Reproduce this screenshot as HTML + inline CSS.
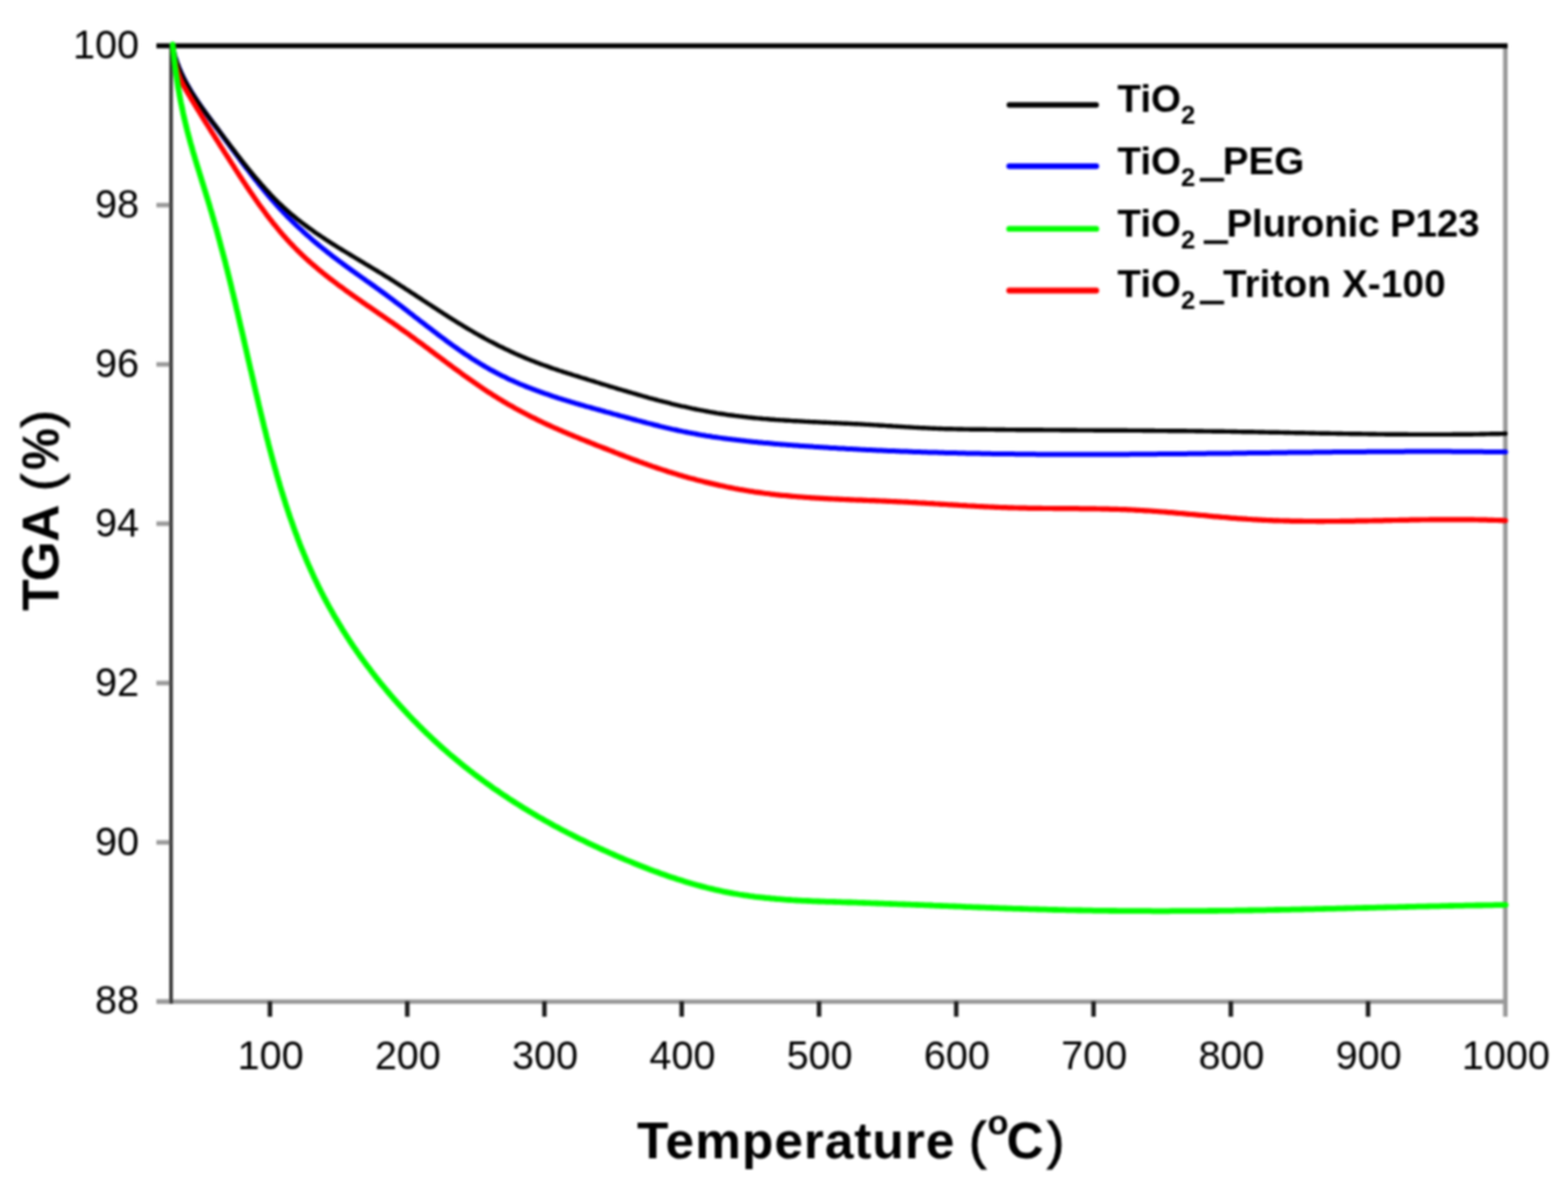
<!DOCTYPE html>
<html><head><meta charset="utf-8"><title>TGA</title>
<style>
html,body{margin:0;padding:0;background:#fff;}
body{width:1584px;height:1198px;overflow:hidden;}
svg{display:block;}
#wrap{filter:blur(0.8px);}
.tl{font-family:"Liberation Sans",Arial,sans-serif;font-size:40px;fill:#000;}
.lg{font-family:"Liberation Sans",Arial,sans-serif;font-size:39px;font-weight:bold;fill:#000;}
.sub{font-size:26px;}
.us{stroke:#000;stroke-width:2.2px;}
.ttl{font-family:"Liberation Sans",Arial,sans-serif;font-size:52px;font-weight:bold;fill:#000;}
.deg{font-size:35px;}
.pn{font-weight:normal;stroke:#000;stroke-width:1.2px;}
</style></head>
<body>
<div id="wrap">
<svg width="1584" height="1198" viewBox="0 0 1584 1198">
<rect width="1584" height="1198" fill="#fff"/>
<line x1="1520.7" y1="46" x2="1520.7" y2="1027" stroke="#999" stroke-width="4.6"/>
<line x1="158" y1="1011.8" x2="1523" y2="1011.8" stroke="#999" stroke-width="4.6"/>
<line x1="158" y1="46.3" x2="1523" y2="46.3" stroke="#000" stroke-width="5"/>
<line x1="172.8" y1="44" x2="172.8" y2="1014" stroke="#333" stroke-width="3.6"/>
<line x1="158" y1="1011.8" x2="171.4" y2="1011.8" stroke="#9a9a9a" stroke-width="4.6"/>
<text x="140.5" y="1024.4" class="tl" text-anchor="end">88</text>
<line x1="158" y1="850.9" x2="171.4" y2="850.9" stroke="#9a9a9a" stroke-width="4.6"/>
<text x="140.5" y="863.5" class="tl" text-anchor="end">90</text>
<line x1="158" y1="690.0" x2="171.4" y2="690.0" stroke="#9a9a9a" stroke-width="4.6"/>
<text x="140.5" y="702.6" class="tl" text-anchor="end">92</text>
<line x1="158" y1="529.0" x2="171.4" y2="529.0" stroke="#9a9a9a" stroke-width="4.6"/>
<text x="140.5" y="541.6" class="tl" text-anchor="end">94</text>
<line x1="158" y1="368.1" x2="171.4" y2="368.1" stroke="#9a9a9a" stroke-width="4.6"/>
<text x="140.5" y="380.7" class="tl" text-anchor="end">96</text>
<line x1="158" y1="207.2" x2="171.4" y2="207.2" stroke="#9a9a9a" stroke-width="4.6"/>
<text x="140.5" y="219.8" class="tl" text-anchor="end">98</text>
<text x="140.5" y="58.9" class="tl" text-anchor="end">100</text>
<line x1="272.7" y1="1011.5" x2="272.7" y2="1027" stroke="#1a1a1a" stroke-width="4.5"/>
<text x="273.3" y="1080.3" class="tl" text-anchor="middle">100</text>
<line x1="411.4" y1="1011.5" x2="411.4" y2="1027" stroke="#1a1a1a" stroke-width="4.5"/>
<text x="412.0" y="1080.3" class="tl" text-anchor="middle">200</text>
<line x1="550.0" y1="1011.5" x2="550.0" y2="1027" stroke="#1a1a1a" stroke-width="4.5"/>
<text x="550.6" y="1080.3" class="tl" text-anchor="middle">300</text>
<line x1="688.7" y1="1011.5" x2="688.7" y2="1027" stroke="#1a1a1a" stroke-width="4.5"/>
<text x="689.3" y="1080.3" class="tl" text-anchor="middle">400</text>
<line x1="827.4" y1="1011.5" x2="827.4" y2="1027" stroke="#1a1a1a" stroke-width="4.5"/>
<text x="828.0" y="1080.3" class="tl" text-anchor="middle">500</text>
<line x1="966.0" y1="1011.5" x2="966.0" y2="1027" stroke="#1a1a1a" stroke-width="4.5"/>
<text x="966.6" y="1080.3" class="tl" text-anchor="middle">600</text>
<line x1="1104.7" y1="1011.5" x2="1104.7" y2="1027" stroke="#1a1a1a" stroke-width="4.5"/>
<text x="1105.3" y="1080.3" class="tl" text-anchor="middle">700</text>
<line x1="1243.4" y1="1011.5" x2="1243.4" y2="1027" stroke="#1a1a1a" stroke-width="4.5"/>
<text x="1244.0" y="1080.3" class="tl" text-anchor="middle">800</text>
<line x1="1382.0" y1="1011.5" x2="1382.0" y2="1027" stroke="#1a1a1a" stroke-width="4.5"/>
<text x="1382.6" y="1080.3" class="tl" text-anchor="middle">900</text>
<text x="1521.3" y="1080.3" class="tl" text-anchor="middle">1000</text>
<path d="M174.4,47.0 L174.9,49.2 L175.4,51.3 L175.9,53.4 L176.4,55.4 L177.0,57.5 L177.7,59.6 L178.3,61.6 L179.0,63.6 L179.8,65.6 L180.5,67.6 L181.3,69.6 L182.2,71.5 L183.0,73.5 L183.9,75.4 L184.8,77.3 L185.8,79.2 L186.7,81.1 L187.7,83.0 L188.7,84.9 L189.8,86.7 L190.8,88.6 L191.9,90.4 L193.0,92.2 L194.1,94.1 L195.3,95.9 L196.4,97.7 L197.6,99.5 L198.8,101.3 L200.0,103.1 L201.2,104.8 L202.4,106.6 L203.7,108.4 L204.9,110.2 L206.2,111.9 L207.4,113.7 L208.7,115.4 L210.0,117.2 L211.3,118.9 L212.6,120.7 L213.8,122.4 L215.1,124.2 L216.4,125.9 L217.7,127.7 L219.0,129.4 L220.3,131.1 L221.6,132.9 L222.9,134.6 L224.2,136.4 L225.4,138.1 L226.7,139.9 L228.0,141.6 L229.3,143.4 L230.6,145.1 L231.9,146.9 L233.1,148.6 L234.4,150.4 L235.7,152.1 L237.0,153.8 L238.3,155.6 L239.6,157.3 L240.9,159.1 L242.2,160.8 L243.4,162.5 L244.7,164.2 L246.0,166.0 L247.3,167.7 L248.6,169.4 L250.0,171.1 L251.3,172.8 L252.6,174.6 L253.9,176.3 L255.2,178.0 L256.6,179.7 L257.9,181.4 L259.2,183.0 L260.6,184.7 L261.9,186.4 L263.3,188.1 L264.6,189.7 L266.0,191.4 L267.4,193.1 L268.7,194.7 L270.1,196.4 L271.5,198.0 L272.9,199.6 L274.3,201.3 L275.7,202.9 L277.2,204.5 L278.6,206.1 L280.0,207.7 L281.5,209.3 L282.9,210.9 L284.4,212.4 L285.9,214.0 L287.3,215.6 L288.8,217.1 L290.3,218.7 L291.8,220.2 L293.4,221.7 L294.9,223.2 L296.4,224.7 L298.0,226.2 L299.5,227.7 L301.1,229.2 L302.7,230.7 L304.3,232.1 L305.8,233.6 L307.4,235.0 L309.0,236.5 L310.6,237.9 L312.3,239.3 L313.9,240.8 L315.5,242.2 L317.2,243.6 L318.8,245.0 L320.4,246.3 L322.1,247.7 L323.8,249.1 L325.4,250.4 L327.1,251.8 L328.8,253.1 L330.5,254.5 L332.1,255.8 L333.8,257.1 L335.5,258.4 L337.2,259.7 L338.9,261.0 L340.6,262.3 L342.3,263.6 L344.0,264.8 L345.8,266.1 L347.5,267.4 L349.2,268.6 L350.9,269.9 L352.7,271.1 L354.4,272.4 L356.1,273.6 L357.8,274.8 L359.6,276.1 L361.3,277.3 L363.0,278.5 L364.8,279.8 L366.5,281.0 L368.3,282.2 L370.0,283.5 L371.7,284.7 L373.5,285.9 L375.2,287.1 L377.0,288.4 L378.7,289.6 L380.4,290.9 L382.2,292.1 L383.9,293.4 L385.6,294.6 L387.4,295.9 L389.1,297.1 L390.8,298.4 L392.6,299.7 L394.3,301.0 L396.0,302.3 L397.7,303.6 L399.4,304.9 L401.2,306.2 L402.9,307.5 L404.6,308.8 L406.3,310.1 L408.0,311.4 L409.8,312.7 L411.5,314.1 L413.2,315.4 L414.9,316.7 L416.6,318.0 L418.3,319.4 L420.0,320.7 L421.8,322.0 L423.5,323.4 L425.2,324.7 L426.9,326.0 L428.6,327.3 L430.4,328.7 L432.1,330.0 L433.8,331.3 L435.5,332.6 L437.3,334.0 L439.0,335.3 L440.7,336.6 L442.4,337.9 L444.2,339.2 L445.9,340.5 L447.7,341.8 L449.4,343.1 L451.1,344.4 L452.9,345.7 L454.6,346.9 L456.4,348.2 L458.2,349.5 L459.9,350.7 L461.7,351.9 L463.5,353.2 L465.2,354.4 L467.0,355.6 L468.8,356.9 L470.6,358.1 L472.4,359.2 L474.2,360.4 L475.9,361.6 L477.8,362.8 L479.6,363.9 L481.4,365.1 L483.2,366.2 L485.0,367.3 L486.8,368.4 L488.7,369.5 L490.5,370.6 L492.4,371.7 L494.2,372.7 L496.1,373.8 L498.0,374.8 L499.8,375.8 L501.7,376.8 L503.6,377.8 L505.5,378.7 L507.4,379.7 L509.3,380.6 L511.2,381.5 L513.1,382.5 L515.0,383.4 L517.0,384.2 L518.9,385.1 L520.8,386.0 L522.8,386.8 L524.7,387.7 L526.7,388.5 L528.7,389.3 L530.6,390.1 L532.6,390.9 L534.6,391.7 L536.6,392.4 L538.5,393.2 L540.5,393.9 L542.5,394.7 L544.5,395.4 L546.5,396.1 L548.6,396.8 L550.6,397.6 L552.6,398.2 L554.6,398.9 L556.6,399.6 L558.7,400.3 L560.7,401.0 L562.7,401.6 L564.8,402.3 L566.8,402.9 L568.8,403.6 L570.9,404.2 L572.9,404.8 L575.0,405.4 L577.1,406.1 L579.1,406.7 L581.2,407.3 L583.2,407.9 L585.3,408.5 L587.4,409.1 L589.4,409.7 L591.5,410.3 L593.6,410.9 L595.7,411.4 L597.7,412.0 L599.8,412.6 L601.9,413.2 L604.0,413.8 L606.1,414.3 L608.1,414.9 L610.2,415.5 L612.3,416.1 L614.4,416.6 L616.5,417.2 L618.6,417.8 L620.6,418.4 L622.7,418.9 L624.8,419.5 L626.9,420.1 L629.0,420.6 L631.1,421.2 L633.2,421.8 L635.3,422.3 L637.4,422.9 L639.5,423.5 L641.6,424.0 L643.7,424.6 L645.8,425.1 L647.9,425.7 L650.0,426.3 L652.1,426.8 L654.2,427.4 L656.3,427.9 L658.4,428.4 L660.5,429.0 L662.6,429.5 L664.7,430.0 L666.8,430.6 L668.9,431.1 L671.0,431.6 L673.1,432.1 L675.3,432.6 L677.4,433.1 L679.5,433.6 L681.6,434.0 L683.7,434.5 L685.8,435.0 L687.9,435.4 L690.1,435.9 L692.2,436.3 L694.3,436.7 L696.4,437.1 L698.5,437.5 L700.6,437.9 L702.8,438.3 L704.9,438.7 L707.0,439.1 L709.1,439.5 L711.2,439.8 L713.4,440.2 L715.5,440.5 L717.6,440.8 L719.7,441.2 L721.8,441.5 L724.0,441.8 L726.1,442.1 L728.2,442.4 L730.4,442.7 L732.5,443.0 L734.6,443.3 L736.7,443.6 L738.9,443.8 L741.0,444.1 L743.1,444.3 L745.2,444.6 L747.4,444.8 L749.5,445.1 L751.6,445.3 L753.8,445.6 L755.9,445.8 L758.0,446.0 L760.2,446.2 L762.3,446.4 L764.4,446.6 L766.6,446.9 L768.7,447.1 L770.8,447.3 L773.0,447.4 L775.1,447.6 L777.2,447.8 L779.4,448.0 L781.5,448.2 L783.6,448.4 L785.8,448.6 L787.9,448.7 L790.0,448.9 L792.2,449.1 L794.3,449.2 L796.4,449.4 L798.6,449.6 L800.7,449.7 L802.9,449.9 L805.0,450.0 L807.1,450.2 L809.3,450.4 L811.4,450.5 L813.5,450.7 L815.7,450.8 L817.8,451.0 L820.0,451.1 L822.1,451.3 L824.2,451.4 L826.4,451.5 L828.5,451.7 L830.7,451.8 L832.8,452.0 L834.9,452.1 L837.1,452.2 L839.2,452.4 L841.4,452.5 L843.5,452.6 L845.6,452.7 L847.8,452.9 L849.9,453.0 L852.1,453.1 L854.2,453.2 L856.3,453.4 L858.5,453.5 L860.6,453.6 L862.8,453.7 L864.9,453.8 L867.1,453.9 L869.2,454.1 L871.3,454.2 L873.5,454.3 L875.6,454.4 L877.8,454.5 L879.9,454.6 L882.1,454.7 L884.2,454.8 L886.3,454.9 L888.5,455.0 L890.6,455.1 L892.8,455.2 L894.9,455.3 L897.1,455.4 L899.2,455.5 L901.3,455.5 L903.5,455.6 L905.6,455.7 L907.8,455.8 L909.9,455.9 L912.1,456.0 L914.2,456.1 L916.4,456.1 L918.5,456.2 L920.7,456.3 L922.8,456.4 L925.0,456.4 L927.1,456.5 L929.2,456.6 L931.4,456.7 L933.5,456.7 L935.7,456.8 L937.8,456.9 L940.0,456.9 L942.1,457.0 L944.3,457.1 L946.4,457.1 L948.6,457.2 L950.7,457.2 L952.9,457.3 L955.0,457.4 L957.2,457.4 L959.3,457.5 L961.5,457.5 L963.6,457.6 L965.8,457.6 L967.9,457.7 L970.1,457.7 L972.2,457.8 L974.4,457.8 L976.5,457.9 L978.7,457.9 L980.8,458.0 L982.9,458.0 L985.1,458.1 L987.2,458.1 L989.4,458.1 L991.5,458.2 L993.7,458.2 L995.8,458.2 L998.0,458.3 L1000.1,458.3 L1002.3,458.4 L1004.5,458.4 L1006.6,458.4 L1008.8,458.5 L1010.9,458.5 L1013.1,458.5 L1015.2,458.5 L1017.4,458.6 L1019.5,458.6 L1021.7,458.6 L1023.8,458.6 L1026.0,458.7 L1028.1,458.7 L1030.3,458.7 L1032.4,458.7 L1034.6,458.8 L1036.7,458.8 L1038.9,458.8 L1041.0,458.8 L1043.2,458.8 L1045.3,458.8 L1047.5,458.9 L1049.6,458.9 L1051.8,458.9 L1053.9,458.9 L1056.1,458.9 L1058.2,458.9 L1060.4,458.9 L1062.5,458.9 L1064.7,459.0 L1066.9,459.0 L1069.0,459.0 L1071.2,459.0 L1073.3,459.0 L1075.5,459.0 L1077.6,459.0 L1079.8,459.0 L1081.9,459.0 L1084.1,459.0 L1086.2,459.0 L1088.4,459.0 L1090.5,459.0 L1092.7,459.0 L1094.8,459.0 L1097.0,459.0 L1099.2,459.0 L1101.3,459.0 L1103.5,459.0 L1105.6,459.0 L1107.8,459.0 L1109.9,459.0 L1112.1,459.0 L1114.2,459.0 L1116.4,459.0 L1118.5,459.0 L1120.7,459.0 L1122.9,458.9 L1125.0,458.9 L1127.2,458.9 L1129.3,458.9 L1131.5,458.9 L1133.6,458.9 L1135.8,458.9 L1137.9,458.9 L1140.1,458.9 L1142.2,458.8 L1144.4,458.8 L1146.6,458.8 L1148.7,458.8 L1150.9,458.8 L1153.0,458.8 L1155.2,458.8 L1157.3,458.7 L1159.5,458.7 L1161.6,458.7 L1163.8,458.7 L1165.9,458.7 L1168.1,458.7 L1170.3,458.6 L1172.4,458.6 L1174.6,458.6 L1176.7,458.6 L1178.9,458.6 L1181.0,458.5 L1183.2,458.5 L1185.3,458.5 L1187.5,458.5 L1189.7,458.5 L1191.8,458.4 L1194.0,458.4 L1196.1,458.4 L1198.3,458.4 L1200.4,458.3 L1202.6,458.3 L1204.7,458.3 L1206.9,458.3 L1209.0,458.3 L1211.2,458.2 L1213.4,458.2 L1215.5,458.2 L1217.7,458.2 L1219.8,458.1 L1222.0,458.1 L1224.1,458.1 L1226.3,458.1 L1228.4,458.0 L1230.6,458.0 L1232.8,458.0 L1234.9,458.0 L1237.1,457.9 L1239.2,457.9 L1241.4,457.9 L1243.5,457.9 L1245.7,457.8 L1247.8,457.8 L1250.0,457.8 L1252.1,457.7 L1254.3,457.7 L1256.5,457.7 L1258.6,457.7 L1260.8,457.6 L1262.9,457.6 L1265.1,457.6 L1267.2,457.6 L1269.4,457.5 L1271.5,457.5 L1273.7,457.5 L1275.8,457.5 L1278.0,457.4 L1280.2,457.4 L1282.3,457.4 L1284.5,457.3 L1286.6,457.3 L1288.8,457.3 L1290.9,457.3 L1293.1,457.2 L1295.2,457.2 L1297.4,457.2 L1299.5,457.2 L1301.7,457.1 L1303.9,457.1 L1306.0,457.1 L1308.2,457.1 L1310.3,457.0 L1312.5,457.0 L1314.6,457.0 L1316.8,457.0 L1318.9,456.9 L1321.1,456.9 L1323.2,456.9 L1325.4,456.9 L1327.5,456.8 L1329.7,456.8 L1331.9,456.8 L1334.0,456.8 L1336.2,456.8 L1338.3,456.7 L1340.5,456.7 L1342.6,456.7 L1344.8,456.7 L1346.9,456.6 L1349.1,456.6 L1351.2,456.6 L1353.4,456.6 L1355.5,456.6 L1357.7,456.5 L1359.8,456.5 L1362.0,456.5 L1364.1,456.5 L1366.3,456.5 L1368.5,456.4 L1370.6,456.4 L1372.8,456.4 L1374.9,456.4 L1377.1,456.4 L1379.2,456.4 L1381.4,456.3 L1383.5,456.3 L1385.7,456.3 L1387.8,456.3 L1390.0,456.3 L1392.1,456.3 L1394.3,456.3 L1396.4,456.2 L1398.6,456.2 L1400.7,456.2 L1402.9,456.2 L1405.0,456.2 L1407.2,456.2 L1409.3,456.2 L1411.5,456.2 L1413.6,456.2 L1415.8,456.2 L1417.9,456.2 L1420.1,456.1 L1422.2,456.1 L1424.4,456.1 L1426.5,456.1 L1428.7,456.1 L1430.8,456.1 L1433.0,456.1 L1435.1,456.1 L1437.3,456.1 L1439.4,456.1 L1441.6,456.1 L1443.7,456.1 L1445.9,456.1 L1448.0,456.1 L1450.2,456.1 L1452.3,456.1 L1454.5,456.1 L1456.6,456.1 L1458.8,456.1 L1460.9,456.1 L1463.1,456.1 L1465.2,456.1 L1467.4,456.2 L1469.5,456.2 L1471.6,456.2 L1473.8,456.2 L1475.9,456.2 L1478.1,456.2 L1480.2,456.2 L1482.4,456.2 L1484.5,456.2 L1486.7,456.3 L1488.8,456.3 L1491.0,456.3 L1493.1,456.3 L1495.3,456.3 L1497.4,456.3 L1499.5,456.4 L1501.7,456.4 L1503.8,456.4 L1506.0,456.4 L1508.1,456.4 L1510.3,456.5 L1512.4,456.5 L1514.6,456.5 L1516.7,456.5 L1518.9,456.6 L1521.0,456.6" fill="none" stroke="#0000ff" stroke-width="5.0" stroke-linejoin="round" stroke-linecap="round"/>
<path d="M174.5,47.0 L174.9,49.1 L175.3,51.2 L175.8,53.3 L176.3,55.4 L176.9,57.4 L177.5,59.5 L178.2,61.5 L178.9,63.5 L179.6,65.4 L180.4,67.4 L181.1,69.4 L182.0,71.3 L182.8,73.2 L183.7,75.1 L184.6,77.0 L185.5,78.9 L186.5,80.8 L187.5,82.7 L188.5,84.5 L189.5,86.3 L190.6,88.2 L191.6,90.0 L192.7,91.8 L193.8,93.6 L195.0,95.4 L196.1,97.2 L197.3,99.0 L198.5,100.7 L199.6,102.5 L200.8,104.3 L202.1,106.0 L203.3,107.7 L204.5,109.5 L205.8,111.2 L207.0,113.0 L208.3,114.7 L209.6,116.4 L210.8,118.1 L212.1,119.9 L213.4,121.6 L214.7,123.3 L216.0,125.0 L217.3,126.7 L218.6,128.4 L219.9,130.2 L221.2,131.9 L222.4,133.6 L223.7,135.3 L225.0,137.0 L226.3,138.7 L227.6,140.5 L228.9,142.2 L230.2,143.9 L231.5,145.6 L232.8,147.3 L234.1,149.0 L235.4,150.7 L236.7,152.4 L238.0,154.1 L239.3,155.8 L240.6,157.5 L241.9,159.2 L243.2,160.9 L244.6,162.6 L245.9,164.3 L247.2,166.0 L248.6,167.6 L249.9,169.3 L251.2,171.0 L252.6,172.6 L253.9,174.3 L255.3,175.9 L256.7,177.6 L258.0,179.2 L259.4,180.8 L260.8,182.4 L262.2,184.0 L263.6,185.7 L265.0,187.3 L266.4,188.8 L267.8,190.4 L269.3,192.0 L270.7,193.6 L272.1,195.1 L273.6,196.7 L275.1,198.2 L276.5,199.7 L278.0,201.2 L279.5,202.7 L281.0,204.2 L282.5,205.7 L284.1,207.1 L285.6,208.6 L287.1,210.0 L288.7,211.4 L290.3,212.8 L291.8,214.2 L293.4,215.6 L295.0,217.0 L296.7,218.3 L298.3,219.6 L299.9,221.0 L301.5,222.3 L303.2,223.6 L304.9,224.9 L306.5,226.1 L308.2,227.4 L309.9,228.6 L311.6,229.9 L313.3,231.1 L315.0,232.3 L316.7,233.6 L318.4,234.8 L320.2,236.0 L321.9,237.1 L323.7,238.3 L325.4,239.5 L327.2,240.7 L328.9,241.8 L330.7,243.0 L332.5,244.1 L334.3,245.3 L336.0,246.4 L337.8,247.5 L339.6,248.7 L341.4,249.8 L343.2,250.9 L345.0,252.0 L346.8,253.1 L348.6,254.2 L350.5,255.3 L352.3,256.4 L354.1,257.5 L355.9,258.6 L357.7,259.7 L359.6,260.8 L361.4,261.9 L363.2,263.0 L365.1,264.1 L366.9,265.2 L368.7,266.3 L370.5,267.4 L372.4,268.5 L374.2,269.6 L376.0,270.7 L377.9,271.8 L379.7,272.9 L381.5,274.0 L383.3,275.1 L385.2,276.2 L387.0,277.3 L388.8,278.5 L390.6,279.6 L392.5,280.7 L394.3,281.9 L396.1,283.0 L397.9,284.2 L399.7,285.3 L401.5,286.5 L403.3,287.6 L405.1,288.8 L406.9,289.9 L408.7,291.1 L410.5,292.3 L412.3,293.4 L414.1,294.6 L415.9,295.8 L417.7,296.9 L419.5,298.1 L421.3,299.3 L423.1,300.5 L424.9,301.6 L426.6,302.8 L428.4,304.0 L430.2,305.2 L432.0,306.3 L433.8,307.5 L435.6,308.7 L437.4,309.9 L439.2,311.0 L441.0,312.2 L442.8,313.4 L444.6,314.5 L446.4,315.7 L448.2,316.8 L450.0,318.0 L451.8,319.1 L453.6,320.3 L455.4,321.4 L457.2,322.6 L459.0,323.7 L460.8,324.8 L462.6,326.0 L464.5,327.1 L466.3,328.2 L468.1,329.3 L469.9,330.4 L471.7,331.5 L473.6,332.6 L475.4,333.7 L477.2,334.7 L479.1,335.8 L480.9,336.9 L482.8,337.9 L484.6,339.0 L486.5,340.0 L488.3,341.0 L490.2,342.1 L492.1,343.1 L493.9,344.1 L495.8,345.1 L497.7,346.0 L499.6,347.0 L501.5,348.0 L503.3,349.0 L505.2,349.9 L507.1,350.8 L509.0,351.8 L510.9,352.7 L512.8,353.6 L514.8,354.5 L516.7,355.4 L518.6,356.3 L520.5,357.2 L522.4,358.0 L524.4,358.9 L526.3,359.7 L528.2,360.5 L530.2,361.4 L532.1,362.2 L534.1,363.0 L536.0,363.8 L538.0,364.5 L539.9,365.3 L541.9,366.1 L543.8,366.8 L545.8,367.6 L547.7,368.3 L549.7,369.0 L551.7,369.7 L553.7,370.4 L555.6,371.1 L557.6,371.8 L559.6,372.5 L561.6,373.1 L563.6,373.8 L565.6,374.5 L567.6,375.1 L569.6,375.8 L571.6,376.4 L573.6,377.1 L575.6,377.7 L577.6,378.3 L579.6,379.0 L581.6,379.6 L583.6,380.2 L585.6,380.9 L587.6,381.5 L589.7,382.1 L591.7,382.7 L593.7,383.4 L595.7,384.0 L597.8,384.6 L599.8,385.2 L601.8,385.9 L603.9,386.5 L605.9,387.1 L608.0,387.8 L610.0,388.4 L612.0,389.0 L614.1,389.6 L616.1,390.3 L618.2,390.9 L620.2,391.5 L622.3,392.1 L624.4,392.8 L626.4,393.4 L628.5,394.0 L630.5,394.6 L632.6,395.2 L634.7,395.8 L636.7,396.4 L638.8,397.0 L640.9,397.6 L642.9,398.2 L645.0,398.8 L647.1,399.4 L649.1,400.0 L651.2,400.6 L653.3,401.2 L655.4,401.8 L657.5,402.3 L659.5,402.9 L661.6,403.5 L663.7,404.0 L665.8,404.6 L667.9,405.1 L670.0,405.7 L672.0,406.2 L674.1,406.7 L676.2,407.2 L678.3,407.8 L680.4,408.3 L682.5,408.8 L684.6,409.3 L686.7,409.8 L688.8,410.3 L690.9,410.7 L693.0,411.2 L695.1,411.7 L697.2,412.1 L699.3,412.6 L701.4,413.0 L703.5,413.5 L705.6,413.9 L707.7,414.3 L709.8,414.7 L711.9,415.1 L714.0,415.5 L716.1,415.9 L718.2,416.3 L720.3,416.6 L722.4,417.0 L724.5,417.4 L726.6,417.7 L728.7,418.0 L730.8,418.3 L732.9,418.6 L735.0,419.0 L737.1,419.2 L739.2,419.5 L741.3,419.8 L743.4,420.1 L745.5,420.3 L747.6,420.6 L749.7,420.8 L751.8,421.1 L753.9,421.3 L756.0,421.6 L758.1,421.8 L760.2,422.0 L762.4,422.2 L764.5,422.4 L766.6,422.6 L768.7,422.8 L770.8,423.0 L772.9,423.1 L775.0,423.3 L777.1,423.5 L779.2,423.7 L781.3,423.8 L783.4,424.0 L785.5,424.1 L787.7,424.3 L789.8,424.4 L791.9,424.5 L794.0,424.7 L796.1,424.8 L798.2,424.9 L800.3,425.1 L802.4,425.2 L804.5,425.3 L806.7,425.4 L808.8,425.5 L810.9,425.6 L813.0,425.8 L815.1,425.9 L817.2,426.0 L819.3,426.1 L821.4,426.2 L823.6,426.3 L825.7,426.4 L827.8,426.5 L829.9,426.6 L832.0,426.7 L834.1,426.8 L836.2,426.9 L838.4,427.0 L840.5,427.1 L842.6,427.2 L844.7,427.3 L846.8,427.4 L848.9,427.5 L851.0,427.6 L853.2,427.7 L855.3,427.8 L857.4,427.9 L859.5,428.0 L861.6,428.1 L863.7,428.2 L865.9,428.3 L868.0,428.4 L870.1,428.5 L872.2,428.6 L874.3,428.8 L876.4,428.9 L878.6,429.0 L880.7,429.1 L882.8,429.3 L884.9,429.4 L887.0,429.5 L889.2,429.7 L891.3,429.8 L893.4,429.9 L895.5,430.1 L897.6,430.2 L899.7,430.3 L901.9,430.5 L904.0,430.6 L906.1,430.7 L908.2,430.9 L910.4,431.0 L912.5,431.1 L914.6,431.3 L916.7,431.4 L918.8,431.5 L921.0,431.6 L923.1,431.8 L925.2,431.9 L927.3,432.0 L929.4,432.1 L931.6,432.2 L933.7,432.3 L935.8,432.4 L937.9,432.5 L940.1,432.6 L942.2,432.7 L944.3,432.8 L946.4,432.9 L948.5,433.0 L950.7,433.0 L952.8,433.1 L954.9,433.2 L957.0,433.2 L959.2,433.3 L961.3,433.3 L963.4,433.4 L965.5,433.4 L967.7,433.5 L969.8,433.5 L971.9,433.5 L974.0,433.6 L976.2,433.6 L978.3,433.6 L980.4,433.7 L982.5,433.7 L984.7,433.7 L986.8,433.7 L988.9,433.8 L991.0,433.8 L993.2,433.8 L995.3,433.8 L997.4,433.9 L999.5,433.9 L1001.7,433.9 L1003.8,433.9 L1005.9,434.0 L1008.0,434.0 L1010.2,434.0 L1012.3,434.0 L1014.4,434.0 L1016.5,434.1 L1018.7,434.1 L1020.8,434.1 L1022.9,434.1 L1025.1,434.1 L1027.2,434.2 L1029.3,434.2 L1031.4,434.2 L1033.6,434.2 L1035.7,434.2 L1037.8,434.2 L1039.9,434.3 L1042.1,434.3 L1044.2,434.3 L1046.3,434.3 L1048.5,434.3 L1050.6,434.3 L1052.7,434.3 L1054.8,434.4 L1057.0,434.4 L1059.1,434.4 L1061.2,434.4 L1063.4,434.4 L1065.5,434.4 L1067.6,434.4 L1069.7,434.4 L1071.9,434.5 L1074.0,434.5 L1076.1,434.5 L1078.3,434.5 L1080.4,434.5 L1082.5,434.5 L1084.6,434.5 L1086.8,434.5 L1088.9,434.6 L1091.0,434.6 L1093.2,434.6 L1095.3,434.6 L1097.4,434.6 L1099.6,434.6 L1101.7,434.6 L1103.8,434.6 L1105.9,434.7 L1108.1,434.7 L1110.2,434.7 L1112.3,434.7 L1114.5,434.7 L1116.6,434.7 L1118.7,434.7 L1120.9,434.7 L1123.0,434.7 L1125.1,434.8 L1127.2,434.8 L1129.4,434.8 L1131.5,434.8 L1133.6,434.8 L1135.8,434.8 L1137.9,434.8 L1140.0,434.9 L1142.2,434.9 L1144.3,434.9 L1146.4,434.9 L1148.6,434.9 L1150.7,434.9 L1152.8,434.9 L1154.9,435.0 L1157.1,435.0 L1159.2,435.0 L1161.3,435.0 L1163.5,435.0 L1165.6,435.0 L1167.7,435.1 L1169.9,435.1 L1172.0,435.1 L1174.1,435.1 L1176.3,435.1 L1178.4,435.1 L1180.5,435.2 L1182.7,435.2 L1184.8,435.2 L1186.9,435.2 L1189.0,435.2 L1191.2,435.3 L1193.3,435.3 L1195.4,435.3 L1197.6,435.3 L1199.7,435.4 L1201.8,435.4 L1204.0,435.4 L1206.1,435.4 L1208.2,435.5 L1210.4,435.5 L1212.5,435.5 L1214.6,435.5 L1216.8,435.6 L1218.9,435.6 L1221.0,435.6 L1223.1,435.6 L1225.3,435.7 L1227.4,435.7 L1229.5,435.7 L1231.7,435.8 L1233.8,435.8 L1235.9,435.8 L1238.1,435.9 L1240.2,435.9 L1242.3,435.9 L1244.5,436.0 L1246.6,436.0 L1248.7,436.0 L1250.9,436.1 L1253.0,436.1 L1255.1,436.2 L1257.2,436.2 L1259.4,436.2 L1261.5,436.3 L1263.6,436.3 L1265.8,436.3 L1267.9,436.4 L1270.0,436.4 L1272.2,436.5 L1274.3,436.5 L1276.4,436.5 L1278.6,436.6 L1280.7,436.6 L1282.8,436.7 L1285.0,436.7 L1287.1,436.8 L1289.2,436.8 L1291.3,436.8 L1293.5,436.9 L1295.6,436.9 L1297.7,437.0 L1299.9,437.0 L1302.0,437.0 L1304.1,437.1 L1306.3,437.1 L1308.4,437.2 L1310.5,437.2 L1312.6,437.3 L1314.8,437.3 L1316.9,437.3 L1319.0,437.4 L1321.2,437.4 L1323.3,437.5 L1325.4,437.5 L1327.6,437.5 L1329.7,437.6 L1331.8,437.6 L1333.9,437.7 L1336.1,437.7 L1338.2,437.7 L1340.3,437.8 L1342.5,437.8 L1344.6,437.9 L1346.7,437.9 L1348.9,437.9 L1351.0,438.0 L1353.1,438.0 L1355.2,438.0 L1357.4,438.1 L1359.5,438.1 L1361.6,438.1 L1363.8,438.2 L1365.9,438.2 L1368.0,438.2 L1370.1,438.3 L1372.3,438.3 L1374.4,438.3 L1376.5,438.4 L1378.7,438.4 L1380.8,438.4 L1382.9,438.5 L1385.0,438.5 L1387.2,438.5 L1389.3,438.5 L1391.4,438.6 L1393.6,438.6 L1395.7,438.6 L1397.8,438.6 L1399.9,438.7 L1402.1,438.7 L1404.2,438.7 L1406.3,438.7 L1408.4,438.7 L1410.6,438.8 L1412.7,438.8 L1414.8,438.8 L1416.9,438.8 L1419.1,438.8 L1421.2,438.8 L1423.3,438.9 L1425.5,438.9 L1427.6,438.9 L1429.7,438.9 L1431.8,438.9 L1434.0,438.9 L1436.1,438.9 L1438.2,438.9 L1440.3,438.9 L1442.5,438.9 L1444.6,438.9 L1446.7,438.9 L1448.8,438.9 L1451.0,438.9 L1453.1,438.9 L1455.2,438.9 L1457.3,438.9 L1459.5,438.9 L1461.6,438.9 L1463.7,438.9 L1465.8,438.9 L1468.0,438.8 L1470.1,438.8 L1472.2,438.8 L1474.3,438.8 L1476.4,438.8 L1478.6,438.8 L1480.7,438.7 L1482.8,438.7 L1484.9,438.7 L1487.1,438.7 L1489.2,438.6 L1491.3,438.6 L1493.4,438.6 L1495.5,438.5 L1497.7,438.5 L1499.8,438.5 L1501.9,438.4 L1504.0,438.4 L1506.2,438.3 L1508.3,438.3 L1510.4,438.3 L1512.5,438.2 L1514.6,438.2 L1516.8,438.1 L1518.9,438.1 L1521.0,438.0" fill="none" stroke="#000" stroke-width="4.4" stroke-linejoin="round" stroke-linecap="round"/>
<path d="M174.5,47.0 L174.8,49.2 L175.1,51.4 L175.4,53.6 L175.7,55.8 L176.1,58.0 L176.4,60.1 L176.9,62.3 L177.3,64.4 L177.8,66.5 L178.3,68.6 L178.9,70.7 L179.5,72.7 L180.2,74.8 L180.9,76.8 L181.7,78.9 L182.6,80.9 L183.6,82.9 L184.6,84.9 L185.6,86.9 L186.7,88.8 L187.9,90.8 L189.0,92.8 L190.1,94.7 L191.3,96.6 L192.4,98.6 L193.6,100.5 L194.7,102.4 L195.9,104.3 L197.0,106.2 L198.2,108.1 L199.3,110.0 L200.5,111.8 L201.6,113.7 L202.8,115.6 L203.9,117.4 L205.1,119.3 L206.2,121.1 L207.4,123.0 L208.5,124.8 L209.7,126.7 L210.8,128.5 L212.0,130.3 L213.1,132.2 L214.3,134.0 L215.4,135.8 L216.6,137.6 L217.7,139.5 L218.9,141.3 L220.1,143.1 L221.2,144.9 L222.4,146.8 L223.5,148.6 L224.7,150.4 L225.9,152.2 L227.0,154.1 L228.2,155.9 L229.4,157.7 L230.6,159.5 L231.7,161.4 L232.9,163.2 L234.1,165.1 L235.3,166.9 L236.5,168.7 L237.6,170.6 L238.8,172.4 L240.0,174.3 L241.2,176.1 L242.4,178.0 L243.6,179.8 L244.8,181.6 L246.0,183.5 L247.3,185.3 L248.5,187.2 L249.7,189.0 L250.9,190.8 L252.2,192.7 L253.4,194.5 L254.7,196.3 L255.9,198.1 L257.2,199.9 L258.4,201.8 L259.7,203.6 L261.0,205.4 L262.3,207.2 L263.6,209.0 L264.9,210.7 L266.2,212.5 L267.5,214.3 L268.8,216.1 L270.1,217.8 L271.5,219.6 L272.8,221.3 L274.2,223.0 L275.5,224.8 L276.9,226.5 L278.3,228.2 L279.7,229.9 L281.1,231.6 L282.5,233.3 L283.9,235.0 L285.3,236.6 L286.7,238.3 L288.2,239.9 L289.6,241.5 L291.1,243.1 L292.6,244.8 L294.1,246.3 L295.6,247.9 L297.1,249.5 L298.6,251.0 L300.2,252.6 L301.7,254.1 L303.3,255.6 L304.8,257.1 L306.4,258.6 L308.0,260.1 L309.6,261.6 L311.2,263.0 L312.8,264.5 L314.4,265.9 L316.1,267.3 L317.7,268.7 L319.4,270.1 L321.0,271.5 L322.7,272.9 L324.4,274.3 L326.1,275.7 L327.8,277.0 L329.5,278.4 L331.2,279.7 L332.9,281.1 L334.6,282.4 L336.4,283.7 L338.1,285.0 L339.8,286.3 L341.6,287.7 L343.3,289.0 L345.1,290.2 L346.9,291.5 L348.6,292.8 L350.4,294.1 L352.2,295.4 L354.0,296.6 L355.7,297.9 L357.5,299.2 L359.3,300.4 L361.1,301.7 L362.9,302.9 L364.7,304.2 L366.5,305.5 L368.3,306.7 L370.1,308.0 L372.0,309.2 L373.8,310.4 L375.6,311.7 L377.4,312.9 L379.2,314.2 L381.0,315.4 L382.8,316.7 L384.7,317.9 L386.5,319.2 L388.3,320.4 L390.1,321.7 L391.9,322.9 L393.7,324.2 L395.6,325.4 L397.4,326.7 L399.2,328.0 L401.0,329.2 L402.8,330.5 L404.6,331.8 L406.4,333.1 L408.2,334.4 L410.0,335.7 L411.8,336.9 L413.6,338.2 L415.4,339.6 L417.2,340.9 L419.0,342.2 L420.7,343.5 L422.5,344.8 L424.3,346.1 L426.1,347.4 L427.9,348.8 L429.6,350.1 L431.4,351.4 L433.2,352.7 L435.0,354.1 L436.7,355.4 L438.5,356.7 L440.3,358.1 L442.1,359.4 L443.8,360.7 L445.6,362.0 L447.4,363.4 L449.2,364.7 L450.9,366.0 L452.7,367.3 L454.5,368.6 L456.3,370.0 L458.0,371.3 L459.8,372.6 L461.6,373.9 L463.4,375.2 L465.2,376.5 L466.9,377.8 L468.7,379.1 L470.5,380.3 L472.3,381.6 L474.1,382.9 L475.9,384.2 L477.7,385.4 L479.5,386.7 L481.3,387.9 L483.1,389.2 L484.9,390.4 L486.7,391.6 L488.5,392.8 L490.4,394.1 L492.2,395.3 L494.0,396.5 L495.9,397.6 L497.7,398.8 L499.5,400.0 L501.4,401.1 L503.2,402.3 L505.1,403.4 L506.9,404.5 L508.8,405.7 L510.7,406.8 L512.6,407.9 L514.4,408.9 L516.3,410.0 L518.2,411.1 L520.1,412.2 L522.0,413.2 L523.9,414.2 L525.8,415.3 L527.7,416.3 L529.6,417.3 L531.5,418.3 L533.4,419.3 L535.4,420.3 L537.3,421.3 L539.2,422.2 L541.2,423.2 L543.1,424.2 L545.0,425.1 L547.0,426.0 L548.9,427.0 L550.9,427.9 L552.9,428.8 L554.8,429.7 L556.8,430.6 L558.8,431.5 L560.7,432.4 L562.7,433.2 L564.7,434.1 L566.7,434.9 L568.7,435.8 L570.6,436.6 L572.6,437.5 L574.6,438.3 L576.6,439.2 L578.6,440.0 L580.6,440.8 L582.7,441.6 L584.7,442.5 L586.7,443.3 L588.7,444.1 L590.7,444.9 L592.8,445.7 L594.8,446.5 L596.8,447.3 L598.8,448.1 L600.9,449.0 L602.9,449.8 L605.0,450.6 L607.0,451.4 L609.1,452.2 L611.1,453.0 L613.2,453.8 L615.2,454.6 L617.3,455.4 L619.4,456.2 L621.4,457.1 L623.5,457.9 L625.6,458.7 L627.6,459.5 L629.7,460.3 L631.8,461.1 L633.9,461.9 L635.9,462.7 L638.0,463.5 L640.1,464.2 L642.2,465.0 L644.3,465.8 L646.4,466.6 L648.5,467.3 L650.6,468.1 L652.7,468.8 L654.8,469.6 L656.9,470.3 L659.0,471.1 L661.1,471.8 L663.2,472.5 L665.3,473.2 L667.4,473.9 L669.5,474.6 L671.7,475.3 L673.8,476.0 L675.9,476.7 L678.0,477.3 L680.1,478.0 L682.3,478.6 L684.4,479.3 L686.5,479.9 L688.7,480.5 L690.8,481.2 L692.9,481.8 L695.1,482.4 L697.2,483.0 L699.3,483.5 L701.5,484.1 L703.6,484.7 L705.7,485.2 L707.9,485.8 L710.0,486.3 L712.2,486.9 L714.3,487.4 L716.5,487.9 L718.6,488.4 L720.8,488.9 L722.9,489.4 L725.1,489.9 L727.2,490.4 L729.4,490.8 L731.5,491.3 L733.7,491.8 L735.8,492.2 L738.0,492.6 L740.1,493.0 L742.3,493.5 L744.4,493.9 L746.6,494.3 L748.8,494.6 L750.9,495.0 L753.1,495.4 L755.2,495.7 L757.4,496.1 L759.6,496.4 L761.7,496.8 L763.9,497.1 L766.0,497.4 L768.2,497.7 L770.4,498.0 L772.5,498.3 L774.7,498.5 L776.8,498.8 L779.0,499.1 L781.2,499.3 L783.3,499.6 L785.5,499.8 L787.7,500.1 L789.8,500.3 L792.0,500.5 L794.2,500.7 L796.3,500.9 L798.5,501.1 L800.7,501.3 L802.8,501.5 L805.0,501.7 L807.2,501.8 L809.3,502.0 L811.5,502.2 L813.7,502.3 L815.8,502.5 L818.0,502.6 L820.2,502.8 L822.3,502.9 L824.5,503.1 L826.7,503.2 L828.9,503.3 L831.0,503.4 L833.2,503.6 L835.4,503.7 L837.5,503.8 L839.7,503.9 L841.9,504.0 L844.1,504.1 L846.2,504.2 L848.4,504.3 L850.6,504.4 L852.8,504.5 L854.9,504.6 L857.1,504.7 L859.3,504.8 L861.5,504.9 L863.6,505.0 L865.8,505.1 L868.0,505.1 L870.2,505.2 L872.3,505.3 L874.5,505.4 L876.7,505.5 L878.9,505.6 L881.0,505.7 L883.2,505.7 L885.4,505.8 L887.6,505.9 L889.8,506.0 L891.9,506.1 L894.1,506.2 L896.3,506.3 L898.5,506.4 L900.7,506.5 L902.8,506.6 L905.0,506.7 L907.2,506.8 L909.4,506.9 L911.6,507.0 L913.7,507.1 L915.9,507.2 L918.1,507.3 L920.3,507.5 L922.5,507.6 L924.7,507.7 L926.8,507.8 L929.0,508.0 L931.2,508.1 L933.4,508.2 L935.6,508.3 L937.8,508.5 L939.9,508.6 L942.1,508.7 L944.3,508.9 L946.5,509.0 L948.7,509.1 L950.9,509.3 L953.1,509.4 L955.2,509.5 L957.4,509.7 L959.6,509.8 L961.8,509.9 L964.0,510.1 L966.2,510.2 L968.4,510.3 L970.5,510.5 L972.7,510.6 L974.9,510.7 L977.1,510.9 L979.3,511.0 L981.5,511.1 L983.7,511.2 L985.9,511.3 L988.0,511.5 L990.2,511.6 L992.4,511.7 L994.6,511.8 L996.8,511.9 L999.0,512.0 L1001.2,512.1 L1003.4,512.2 L1005.6,512.3 L1007.8,512.4 L1009.9,512.5 L1012.1,512.6 L1014.3,512.6 L1016.5,512.7 L1018.7,512.8 L1020.9,512.9 L1023.1,512.9 L1025.3,513.0 L1027.5,513.0 L1029.7,513.1 L1031.9,513.1 L1034.0,513.2 L1036.2,513.2 L1038.4,513.3 L1040.6,513.3 L1042.8,513.3 L1045.0,513.4 L1047.2,513.4 L1049.4,513.4 L1051.6,513.4 L1053.8,513.5 L1056.0,513.5 L1058.2,513.5 L1060.4,513.5 L1062.6,513.5 L1064.7,513.6 L1066.9,513.6 L1069.1,513.6 L1071.3,513.6 L1073.5,513.6 L1075.7,513.6 L1077.9,513.7 L1080.1,513.7 L1082.3,513.7 L1084.5,513.7 L1086.7,513.7 L1088.9,513.7 L1091.1,513.8 L1093.3,513.8 L1095.5,513.8 L1097.7,513.8 L1099.9,513.9 L1102.1,513.9 L1104.3,513.9 L1106.5,513.9 L1108.6,514.0 L1110.8,514.0 L1113.0,514.1 L1115.2,514.1 L1117.4,514.1 L1119.6,514.2 L1121.8,514.3 L1124.0,514.3 L1126.2,514.4 L1128.4,514.4 L1130.6,514.5 L1132.8,514.6 L1135.0,514.7 L1137.2,514.7 L1139.4,514.8 L1141.6,514.9 L1143.8,515.0 L1146.0,515.1 L1148.2,515.3 L1150.4,515.4 L1152.6,515.5 L1154.8,515.6 L1157.0,515.8 L1159.2,515.9 L1161.4,516.0 L1163.6,516.2 L1165.8,516.3 L1168.0,516.5 L1170.2,516.7 L1172.4,516.8 L1174.6,517.0 L1176.7,517.2 L1178.9,517.4 L1181.1,517.6 L1183.3,517.7 L1185.5,517.9 L1187.7,518.1 L1189.9,518.3 L1192.1,518.5 L1194.3,518.7 L1196.5,518.9 L1198.7,519.1 L1200.9,519.3 L1203.1,519.5 L1205.3,519.7 L1207.5,519.9 L1209.7,520.1 L1211.9,520.3 L1214.1,520.5 L1216.3,520.7 L1218.5,520.9 L1220.7,521.2 L1222.9,521.4 L1225.1,521.6 L1227.3,521.8 L1229.5,521.9 L1231.7,522.1 L1233.9,522.3 L1236.1,522.5 L1238.3,522.7 L1240.5,522.9 L1242.7,523.1 L1244.9,523.3 L1247.1,523.4 L1249.3,523.6 L1251.5,523.8 L1253.7,523.9 L1255.9,524.1 L1258.1,524.2 L1260.3,524.4 L1262.5,524.5 L1264.7,524.7 L1266.9,524.8 L1269.1,524.9 L1271.2,525.1 L1273.4,525.2 L1275.6,525.3 L1277.8,525.4 L1280.0,525.5 L1282.2,525.6 L1284.4,525.7 L1286.6,525.8 L1288.8,525.8 L1291.0,525.9 L1293.2,526.0 L1295.4,526.0 L1297.6,526.1 L1299.8,526.2 L1302.0,526.2 L1304.2,526.3 L1306.4,526.3 L1308.6,526.4 L1310.8,526.4 L1313.0,526.4 L1315.2,526.4 L1317.4,526.5 L1319.6,526.5 L1321.8,526.5 L1324.0,526.5 L1326.2,526.5 L1328.4,526.5 L1330.6,526.6 L1332.7,526.6 L1334.9,526.6 L1337.1,526.6 L1339.3,526.5 L1341.5,526.5 L1343.7,526.5 L1345.9,526.5 L1348.1,526.5 L1350.3,526.5 L1352.5,526.5 L1354.7,526.4 L1356.9,526.4 L1359.1,526.4 L1361.3,526.4 L1363.5,526.3 L1365.7,526.3 L1367.9,526.3 L1370.0,526.2 L1372.2,526.2 L1374.4,526.2 L1376.6,526.1 L1378.8,526.1 L1381.0,526.1 L1383.2,526.0 L1385.4,526.0 L1387.6,525.9 L1389.8,525.9 L1392.0,525.8 L1394.2,525.8 L1396.4,525.8 L1398.6,525.7 L1400.7,525.7 L1402.9,525.6 L1405.1,525.6 L1407.3,525.5 L1409.5,525.5 L1411.7,525.5 L1413.9,525.4 L1416.1,525.4 L1418.3,525.3 L1420.5,525.3 L1422.6,525.3 L1424.8,525.2 L1427.0,525.2 L1429.2,525.1 L1431.4,525.1 L1433.6,525.1 L1435.8,525.0 L1438.0,525.0 L1440.2,525.0 L1442.4,525.0 L1444.5,524.9 L1446.7,524.9 L1448.9,524.9 L1451.1,524.9 L1453.3,524.9 L1455.5,524.8 L1457.7,524.8 L1459.9,524.8 L1462.0,524.8 L1464.2,524.8 L1466.4,524.8 L1468.6,524.8 L1470.8,524.8 L1473.0,524.8 L1475.2,524.8 L1477.3,524.8 L1479.5,524.9 L1481.7,524.9 L1483.9,524.9 L1486.1,524.9 L1488.3,524.9 L1490.4,525.0 L1492.6,525.0 L1494.8,525.1 L1497.0,525.1 L1499.2,525.2 L1501.4,525.2 L1503.5,525.3 L1505.7,525.3 L1507.9,525.4 L1510.1,525.5 L1512.3,525.5 L1514.5,525.6 L1516.6,525.7 L1518.8,525.8 L1521.0,525.9" fill="none" stroke="#ff0000" stroke-width="5.2" stroke-linejoin="round" stroke-linecap="round"/>
<path d="M174.5,45.0 L174.8,47.7 L175.0,50.4 L175.3,53.1 L175.6,55.8 L175.9,58.5 L176.2,61.2 L176.5,63.9 L176.8,66.6 L177.2,69.3 L177.5,72.0 L177.9,74.6 L178.3,77.3 L178.7,80.0 L179.1,82.6 L179.5,85.3 L179.9,87.9 L180.4,90.6 L180.9,93.2 L181.3,95.9 L181.8,98.5 L182.3,101.2 L182.8,103.8 L183.4,106.4 L183.9,109.0 L184.5,111.7 L185.0,114.3 L185.6,116.9 L186.2,119.5 L186.8,122.1 L187.4,124.7 L188.0,127.3 L188.7,129.9 L189.3,132.5 L190.0,135.1 L190.7,137.7 L191.4,140.3 L192.1,142.9 L192.8,145.5 L193.6,148.1 L194.3,150.7 L195.0,153.3 L195.8,155.9 L196.6,158.5 L197.3,161.1 L198.1,163.7 L198.9,166.3 L199.7,168.8 L200.5,171.4 L201.3,174.0 L202.1,176.6 L202.9,179.2 L203.7,181.8 L204.5,184.4 L205.3,186.9 L206.1,189.5 L206.9,192.1 L207.7,194.7 L208.5,197.3 L209.3,199.9 L210.1,202.5 L210.9,205.1 L211.7,207.7 L212.4,210.3 L213.2,212.9 L214.0,215.5 L214.7,218.1 L215.5,220.7 L216.2,223.3 L217.0,225.9 L217.7,228.5 L218.5,231.1 L219.2,233.7 L219.9,236.3 L220.6,238.9 L221.3,241.5 L222.0,244.1 L222.7,246.7 L223.4,249.4 L224.1,252.0 L224.8,254.6 L225.5,257.2 L226.2,259.8 L226.9,262.4 L227.6,265.1 L228.2,267.7 L228.9,270.3 L229.6,272.9 L230.2,275.6 L230.9,278.2 L231.5,280.8 L232.2,283.4 L232.8,286.1 L233.5,288.7 L234.1,291.3 L234.7,294.0 L235.4,296.6 L236.0,299.2 L236.6,301.8 L237.3,304.5 L237.9,307.1 L238.5,309.7 L239.1,312.4 L239.8,315.0 L240.4,317.6 L241.0,320.3 L241.6,322.9 L242.2,325.5 L242.8,328.2 L243.4,330.8 L244.1,333.5 L244.7,336.1 L245.3,338.7 L245.9,341.4 L246.5,344.0 L247.1,346.6 L247.7,349.3 L248.3,351.9 L248.9,354.5 L249.5,357.2 L250.1,359.8 L250.7,362.5 L251.3,365.1 L251.9,367.7 L252.5,370.4 L253.1,373.0 L253.8,375.6 L254.4,378.3 L255.0,380.9 L255.6,383.5 L256.2,386.2 L256.8,388.8 L257.4,391.4 L258.0,394.1 L258.6,396.7 L259.3,399.4 L259.9,402.0 L260.5,404.6 L261.1,407.2 L261.7,409.9 L262.4,412.5 L263.0,415.1 L263.6,417.8 L264.3,420.4 L264.9,423.0 L265.5,425.6 L266.2,428.3 L266.8,430.9 L267.5,433.5 L268.1,436.1 L268.8,438.8 L269.4,441.4 L270.1,444.0 L270.8,446.6 L271.4,449.2 L272.1,451.8 L272.8,454.5 L273.5,457.1 L274.2,459.7 L274.9,462.3 L275.6,464.9 L276.3,467.5 L277.0,470.1 L277.7,472.7 L278.5,475.3 L279.2,477.9 L279.9,480.5 L280.7,483.1 L281.4,485.6 L282.2,488.2 L282.9,490.8 L283.7,493.4 L284.5,496.0 L285.3,498.5 L286.1,501.1 L286.9,503.7 L287.7,506.2 L288.5,508.8 L289.3,511.3 L290.2,513.9 L291.0,516.4 L291.9,519.0 L292.7,521.5 L293.6,524.1 L294.5,526.6 L295.4,529.1 L296.3,531.7 L297.2,534.2 L298.1,536.7 L299.0,539.2 L300.0,541.7 L300.9,544.3 L301.9,546.8 L302.8,549.3 L303.8,551.8 L304.8,554.3 L305.8,556.7 L306.8,559.2 L307.9,561.7 L308.9,564.2 L309.9,566.6 L311.0,569.1 L312.1,571.6 L313.2,574.0 L314.3,576.5 L315.4,578.9 L316.5,581.4 L317.6,583.8 L318.8,586.2 L320.0,588.6 L321.1,591.1 L322.3,593.5 L323.5,595.9 L324.7,598.3 L326.0,600.7 L327.2,603.1 L328.5,605.5 L329.7,607.8 L331.0,610.2 L332.3,612.6 L333.6,614.9 L335.0,617.3 L336.3,619.6 L337.6,622.0 L339.0,624.3 L340.4,626.6 L341.8,629.0 L343.2,631.3 L344.6,633.6 L346.0,635.9 L347.4,638.2 L348.9,640.5 L350.4,642.8 L351.8,645.0 L353.3,647.3 L354.8,649.6 L356.3,651.8 L357.8,654.1 L359.4,656.3 L360.9,658.6 L362.5,660.8 L364.0,663.0 L365.6,665.2 L367.2,667.4 L368.8,669.6 L370.4,671.8 L372.1,674.0 L373.7,676.1 L375.3,678.3 L377.0,680.5 L378.7,682.6 L380.3,684.8 L382.0,686.9 L383.7,689.0 L385.4,691.1 L387.2,693.2 L388.9,695.3 L390.6,697.4 L392.4,699.5 L394.2,701.6 L395.9,703.6 L397.7,705.7 L399.5,707.7 L401.3,709.8 L403.1,711.8 L404.9,713.8 L406.8,715.8 L408.6,717.8 L410.5,719.8 L412.3,721.8 L414.2,723.8 L416.1,725.7 L418.0,727.7 L419.9,729.6 L421.8,731.6 L423.7,733.5 L425.6,735.4 L427.5,737.3 L429.5,739.2 L431.4,741.1 L433.4,742.9 L435.4,744.8 L437.3,746.7 L439.3,748.5 L441.3,750.3 L443.3,752.2 L445.3,754.0 L447.3,755.8 L449.4,757.6 L451.4,759.3 L453.4,761.1 L455.5,762.9 L457.6,764.6 L459.6,766.3 L461.7,768.1 L463.8,769.8 L465.9,771.5 L468.0,773.2 L470.1,774.9 L472.2,776.5 L474.3,778.2 L476.4,779.8 L478.5,781.5 L480.7,783.1 L482.8,784.7 L485.0,786.3 L487.1,787.9 L489.3,789.5 L491.5,791.1 L493.7,792.7 L495.8,794.2 L498.0,795.8 L500.2,797.3 L502.5,798.8 L504.7,800.3 L506.9,801.8 L509.1,803.3 L511.4,804.8 L513.6,806.3 L515.8,807.8 L518.1,809.2 L520.4,810.7 L522.6,812.1 L524.9,813.5 L527.2,815.0 L529.5,816.4 L531.8,817.8 L534.1,819.2 L536.4,820.6 L538.7,821.9 L541.0,823.3 L543.3,824.7 L545.6,826.0 L548.0,827.3 L550.3,828.7 L552.7,830.0 L555.0,831.3 L557.4,832.6 L559.7,833.9 L562.1,835.2 L564.5,836.4 L566.8,837.7 L569.2,839.0 L571.6,840.2 L574.0,841.5 L576.4,842.7 L578.8,843.9 L581.2,845.1 L583.6,846.4 L586.1,847.6 L588.5,848.7 L590.9,849.9 L593.3,851.1 L595.8,852.3 L598.2,853.4 L600.7,854.6 L603.1,855.7 L605.6,856.9 L608.1,858.0 L610.5,859.1 L613.0,860.2 L615.5,861.3 L618.0,862.4 L620.4,863.5 L622.9,864.6 L625.4,865.7 L627.9,866.7 L630.4,867.8 L632.9,868.9 L635.5,869.9 L638.0,870.9 L640.5,872.0 L643.0,873.0 L645.5,874.0 L648.1,875.0 L650.6,876.0 L653.2,877.0 L655.7,878.0 L658.2,878.9 L660.8,879.9 L663.4,880.8 L665.9,881.8 L668.5,882.7 L671.0,883.6 L673.6,884.5 L676.2,885.4 L678.8,886.3 L681.3,887.1 L683.9,888.0 L686.5,888.8 L689.1,889.6 L691.7,890.4 L694.3,891.2 L696.9,892.0 L699.5,892.8 L702.1,893.5 L704.7,894.2 L707.3,894.9 L709.9,895.6 L712.5,896.3 L715.1,897.0 L717.8,897.6 L720.4,898.2 L723.0,898.9 L725.6,899.4 L728.3,900.0 L730.9,900.6 L733.5,901.1 L736.2,901.6 L738.8,902.1 L741.5,902.6 L744.1,903.0 L746.7,903.5 L749.4,903.9 L752.0,904.3 L754.7,904.7 L757.4,905.1 L760.0,905.4 L762.7,905.8 L765.3,906.1 L768.0,906.4 L770.7,906.7 L773.3,907.0 L776.0,907.2 L778.7,907.5 L781.3,907.7 L784.0,908.0 L786.7,908.2 L789.4,908.4 L792.0,908.6 L794.7,908.8 L797.4,909.0 L800.1,909.2 L802.7,909.3 L805.4,909.5 L808.1,909.6 L810.8,909.8 L813.5,909.9 L816.2,910.0 L818.9,910.1 L821.5,910.3 L824.2,910.4 L826.9,910.5 L829.6,910.6 L832.3,910.7 L835.0,910.8 L837.7,910.9 L840.4,910.9 L843.1,911.0 L845.8,911.1 L848.5,911.2 L851.2,911.3 L853.9,911.4 L856.6,911.5 L859.3,911.5 L861.9,911.6 L864.6,911.7 L867.3,911.8 L870.0,911.9 L872.7,912.0 L875.4,912.1 L878.1,912.2 L880.8,912.3 L883.5,912.4 L886.2,912.5 L888.9,912.6 L891.6,912.7 L894.3,912.8 L897.0,912.9 L899.7,913.0 L902.4,913.1 L905.1,913.2 L907.8,913.3 L910.5,913.4 L913.2,913.5 L915.9,913.6 L918.6,913.7 L921.3,913.8 L924.0,913.9 L926.7,914.0 L929.4,914.1 L932.1,914.2 L934.8,914.3 L937.5,914.4 L940.2,914.5 L942.9,914.7 L945.6,914.8 L948.3,914.9 L951.0,915.0 L953.7,915.1 L956.4,915.2 L959.1,915.3 L961.8,915.4 L964.5,915.5 L967.2,915.6 L969.9,915.7 L972.6,915.8 L975.3,916.0 L978.0,916.1 L980.7,916.2 L983.4,916.3 L986.1,916.4 L988.8,916.5 L991.5,916.6 L994.2,916.7 L996.9,916.8 L999.6,916.9 L1002.3,917.0 L1005.0,917.1 L1007.7,917.2 L1010.4,917.3 L1013.1,917.4 L1015.8,917.5 L1018.5,917.6 L1021.2,917.7 L1023.9,917.8 L1026.6,917.8 L1029.3,917.9 L1032.0,918.0 L1034.7,918.1 L1037.4,918.2 L1040.1,918.3 L1042.8,918.4 L1045.5,918.4 L1048.2,918.5 L1050.9,918.6 L1053.6,918.7 L1056.3,918.7 L1059.0,918.8 L1061.7,918.9 L1064.4,919.0 L1067.1,919.0 L1069.8,919.1 L1072.6,919.1 L1075.3,919.2 L1078.0,919.3 L1080.7,919.3 L1083.4,919.4 L1086.1,919.4 L1088.8,919.5 L1091.5,919.5 L1094.2,919.6 L1096.9,919.6 L1099.6,919.7 L1102.3,919.7 L1105.0,919.8 L1107.7,919.8 L1110.4,919.8 L1113.1,919.9 L1115.8,919.9 L1118.5,919.9 L1121.2,920.0 L1123.9,920.0 L1126.6,920.0 L1129.3,920.1 L1132.0,920.1 L1134.7,920.1 L1137.4,920.1 L1140.1,920.1 L1142.8,920.2 L1145.5,920.2 L1148.3,920.2 L1151.0,920.2 L1153.7,920.2 L1156.4,920.2 L1159.1,920.2 L1161.8,920.2 L1164.5,920.3 L1167.2,920.3 L1169.9,920.3 L1172.6,920.3 L1175.3,920.3 L1178.0,920.3 L1180.7,920.3 L1183.4,920.2 L1186.1,920.2 L1188.8,920.2 L1191.5,920.2 L1194.2,920.2 L1196.9,920.2 L1199.6,920.2 L1202.3,920.2 L1205.0,920.2 L1207.7,920.1 L1210.4,920.1 L1213.1,920.1 L1215.9,920.1 L1218.6,920.1 L1221.3,920.0 L1224.0,920.0 L1226.7,920.0 L1229.4,920.0 L1232.1,919.9 L1234.8,919.9 L1237.5,919.9 L1240.2,919.8 L1242.9,919.8 L1245.6,919.8 L1248.3,919.7 L1251.0,919.7 L1253.7,919.6 L1256.4,919.6 L1259.1,919.6 L1261.8,919.5 L1264.5,919.5 L1267.2,919.4 L1269.9,919.4 L1272.6,919.3 L1275.3,919.3 L1278.0,919.3 L1280.7,919.2 L1283.4,919.2 L1286.1,919.1 L1288.8,919.0 L1291.5,919.0 L1294.3,918.9 L1297.0,918.9 L1299.7,918.8 L1302.4,918.8 L1305.1,918.7 L1307.8,918.7 L1310.5,918.6 L1313.2,918.6 L1315.9,918.5 L1318.6,918.4 L1321.3,918.4 L1324.0,918.3 L1326.7,918.3 L1329.4,918.2 L1332.1,918.1 L1334.8,918.1 L1337.5,918.0 L1340.2,917.9 L1342.9,917.9 L1345.6,917.8 L1348.3,917.8 L1351.0,917.7 L1353.7,917.6 L1356.4,917.6 L1359.1,917.5 L1361.8,917.4 L1364.5,917.4 L1367.2,917.3 L1369.9,917.2 L1372.6,917.2 L1375.3,917.1 L1378.0,917.0 L1380.7,917.0 L1383.4,916.9 L1386.1,916.8 L1388.8,916.8 L1391.5,916.7 L1394.2,916.6 L1396.9,916.6 L1399.6,916.5 L1402.3,916.4 L1405.0,916.4 L1407.7,916.3 L1410.4,916.3 L1413.1,916.2 L1415.8,916.1 L1418.5,916.1 L1421.2,916.0 L1423.9,915.9 L1426.6,915.9 L1429.3,915.8 L1432.0,915.7 L1434.7,915.7 L1437.4,915.6 L1440.1,915.6 L1442.8,915.5 L1445.5,915.4 L1448.2,915.4 L1450.9,915.3 L1453.6,915.3 L1456.3,915.2 L1459.0,915.2 L1461.7,915.1 L1464.4,915.0 L1467.1,915.0 L1469.8,914.9 L1472.5,914.9 L1475.2,914.8 L1477.9,914.8 L1480.6,914.7 L1483.3,914.7 L1486.0,914.6 L1488.7,914.6 L1491.4,914.5 L1494.0,914.5 L1496.7,914.5 L1499.4,914.4 L1502.1,914.4 L1504.8,914.3 L1507.5,914.3 L1510.2,914.2 L1512.9,914.2 L1515.6,914.2 L1518.3,914.1 L1521.0,914.1" fill="none" stroke="#00ff00" stroke-width="5.8" stroke-linejoin="round" stroke-linecap="round"/>
<line x1="1019.5" y1="106.0" x2="1107.5" y2="106.0" stroke="#000" stroke-width="5.3" stroke-linecap="round"/>
<text x="1128.8" y="113.3" class="lg">TiO<tspan class="sub" dy="12">2</tspan></text>
<line x1="1019.5" y1="167.8" x2="1107.5" y2="167.8" stroke="#0000ff" stroke-width="5.8" stroke-linecap="round"/>
<text x="1128.8" y="176.3" class="lg">TiO<tspan class="sub" dy="12">2</tspan></text>
<text x="1213.6" y="176.3" class="lg" ><tspan dy="2" class="us">_</tspan><tspan dy="-2">PEG</tspan></text>
<line x1="1019.5" y1="231.2" x2="1107.5" y2="231.2" stroke="#00ff00" stroke-width="5.8" stroke-linecap="round"/>
<text x="1128.8" y="239.3" class="lg">TiO<tspan class="sub" dy="12">2</tspan></text>
<text x="1217.4" y="239.3" class="lg" textLength="277.4" lengthAdjust="spacing"><tspan dy="2" class="us">_</tspan><tspan dy="-2">Pluronic P123</tspan></text>
<line x1="1019.5" y1="293.5" x2="1107.5" y2="293.5" stroke="#ff0000" stroke-width="5.8" stroke-linecap="round"/>
<text x="1128.8" y="299.8" class="lg">TiO<tspan class="sub" dy="12">2</tspan></text>
<text x="1213.6" y="299.8" class="lg" textLength="246.8" lengthAdjust="spacing"><tspan dy="2" class="us">_</tspan><tspan dy="-2">Triton X-100</tspan></text>
<text transform="translate(58.5,617) rotate(-90)" class="ttl"><tspan x="0">T</tspan><tspan x="29.7">G</tspan><tspan x="69.7">A</tspan><tspan x="121" class="pn">(</tspan><tspan x="185.2" class="pn">)</tspan></text>
<text transform="translate(58.5,617) rotate(-90) translate(142.2,0) scale(0.915,1)" class="ttl">%</text>
<text x="643.5" y="1170" class="ttl" textLength="320.7" lengthAdjust="spacing">Temperature</text>
<text y="1170" class="ttl"><tspan x="978.9" class="pn">(</tspan><tspan x="997.5" dy="-24" class="deg">o</tspan><tspan x="1016.7" dy="24">C</tspan><tspan x="1057.7" class="pn">)</tspan></text>
</svg>
</div>
</body></html>
